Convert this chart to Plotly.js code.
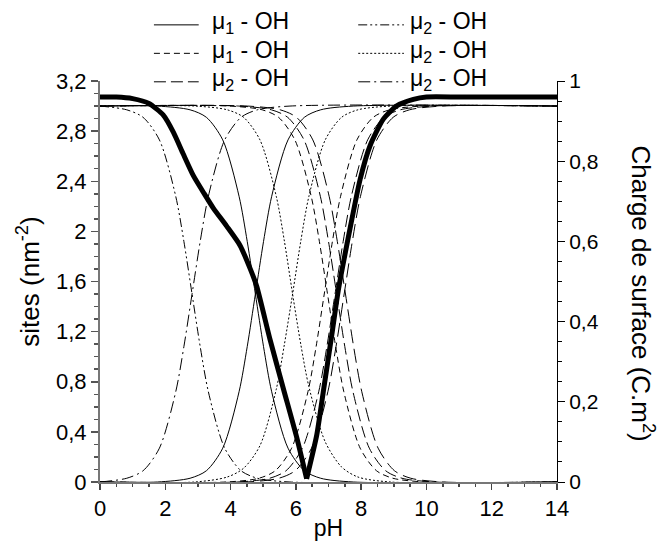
<!DOCTYPE html>
<html><head><meta charset="utf-8">
<script src="https://cdn.plot.ly/plotly-3.0.1.min.js"></script>
<style>html,body{margin:0;padding:0;background:#fff}#chart{width:661px;height:541px}</style>
</head><body><div id="chart"></div>
<script>
// ---- site species curves (sites nm^-2 vs pH) ----
const pH_ddDesc = [0, 0.82, 1.32, 1.82, 2.32, 2.57, 2.82, 3.07, 3.32, 3.82, 4.32, 4.82, 5.82, 14];
const v_ddDesc  = [3.00, 2.97, 2.91, 2.73, 2.28, 1.92, 1.50, 1.08, 0.72, 0.27, 0.09, 0.03, 0.00, 0.00];
const pH_ddAsc  = [0, 0.82, 1.32, 1.82, 2.32, 2.57, 2.82, 3.07, 3.32, 3.82, 4.32, 4.82, 5.82, 14];
const v_ddAsc   = [0.00, 0.03, 0.09, 0.27, 0.72, 1.08, 1.50, 1.92, 2.28, 2.73, 2.91, 2.97, 3.00, 3.00];

const pH_solDesc = [0, 1.76, 2.76, 3.26, 3.76, 4.26, 4.51, 4.76, 5.01, 5.26, 5.76, 6.26, 6.76, 7.76, 14];
const v_solDesc  = [3.00, 3.00, 2.97, 2.91, 2.73, 2.28, 1.92, 1.50, 1.08, 0.72, 0.27, 0.09, 0.03, 0.00, 0.00];
const pH_solAsc  = [0, 1.76, 2.76, 3.26, 3.76, 4.26, 4.51, 4.76, 5.01, 5.26, 5.76, 6.26, 6.76, 7.76, 14];
const v_solAsc   = [0.00, 0.00, 0.03, 0.09, 0.27, 0.72, 1.08, 1.50, 1.92, 2.28, 2.73, 2.91, 2.97, 3.00, 3.00];

const pH_dotDesc = [0, 2.9, 3.9, 4.4, 4.9, 5.4, 5.65, 5.9, 6.15, 6.4, 6.9, 7.4, 7.9, 8.9, 14];
const v_dotDesc  = [3.00, 3.00, 2.97, 2.91, 2.73, 2.28, 1.92, 1.50, 1.10, 0.76, 0.32, 0.12, 0.04, 0.00, 0.00];
const pH_dotAsc  = [0, 2.9, 3.9, 4.4, 4.9, 5.4, 5.65, 5.9, 6.15, 6.4, 6.9, 7.4, 7.9, 8.9, 14];
const v_dotAsc   = [0.00, 0.00, 0.04, 0.11, 0.29, 0.74, 1.10, 1.50, 1.92, 2.28, 2.73, 2.91, 2.97, 3.00, 3.00];

const pH_dashDesc = [0, 3.97, 4.97, 5.47, 5.97, 6.47, 6.72, 6.97, 7.22, 7.47, 7.97, 8.47, 8.97, 9.97, 14];
const v_dashDesc  = [3.00, 3.00, 2.97, 2.91, 2.73, 2.28, 1.92, 1.50, 1.08, 0.72, 0.27, 0.09, 0.03, 0.00, 0.00];
const pH_dashAsc  = [0, 3.87, 4.87, 5.37, 5.87, 6.37, 6.62, 6.87, 7.12, 7.37, 7.87, 8.37, 8.87, 9.87, 14];
const v_dashAsc   = [0.00, 0.00, 0.03, 0.09, 0.27, 0.72, 1.08, 1.50, 1.92, 2.28, 2.73, 2.91, 2.97, 3.00, 3.00];

const pH_ldDesc = [0, 4.25, 5.25, 5.75, 6.25, 6.75, 7.0, 7.25, 7.5, 7.75, 8.25, 8.75, 9.25, 10.25, 14];
const v_ldDesc  = [3.00, 3.00, 2.97, 2.91, 2.73, 2.28, 1.92, 1.50, 1.08, 0.72, 0.27, 0.09, 0.03, 0.00, 0.00];
const pH_ldAsc  = [0, 4.2, 5.2, 5.7, 6.2, 6.7, 6.95, 7.2, 7.45, 7.7, 8.2, 8.7, 9.2, 10.2, 14];
const v_ldAsc   = [0.00, 0.00, 0.03, 0.09, 0.27, 0.72, 1.08, 1.50, 1.92, 2.28, 2.73, 2.91, 2.97, 3.00, 3.00];

const pH_ld2Desc = [0, 4.52, 5.52, 6.02, 6.52, 7.02, 7.27, 7.52, 7.77, 8.02, 8.52, 9.02, 9.52, 10.52, 14];
const v_ld2Desc  = [3.00, 3.00, 2.97, 2.91, 2.73, 2.28, 1.92, 1.50, 1.08, 0.72, 0.27, 0.09, 0.03, 0.00, 0.00];
const pH_ld2Asc  = [0, 4.48, 5.48, 5.98, 6.48, 6.98, 7.23, 7.48, 7.73, 7.98, 8.48, 8.98, 9.48, 10.48, 14];
const v_ld2Asc   = [0.00, 0.00, 0.03, 0.09, 0.27, 0.72, 1.08, 1.50, 1.92, 2.28, 2.73, 2.91, 2.97, 3.00, 3.00];

// ---- surface charge (right axis): branch below and above the point of zero charge ----
const pH_chargeLow = [0, 0.5, 1, 1.5, 1.94, 2.25, 2.55, 2.86, 3.17, 3.47, 3.88, 4.29, 4.6, 4.8, 5.21, 5.62, 6.03, 6.33];
const v_chargeLow  = [0.960, 0.960, 0.956, 0.944, 0.915, 0.872, 0.818, 0.764, 0.722, 0.683, 0.638, 0.590, 0.532, 0.488, 0.355, 0.232, 0.110, 0.008];
const pH_chargeHigh = [6.33, 6.64, 6.84, 7.1, 7.3, 7.66, 7.97, 8.27, 8.68, 9.09, 9.6, 10, 11, 12, 13, 14];
const v_chargeHigh  = [0.008, 0.117, 0.225, 0.366, 0.478, 0.632, 0.755, 0.838, 0.905, 0.938, 0.954, 0.960, 0.960, 0.960, 0.960, 0.960];

// ---- legend labels ----
const legendLeft  = ['μ<sub>1</sub> - OH', 'μ<sub>1</sub> - OH', 'μ<sub>2</sub> - OH'];
const legendRight = ['μ<sub>2</sub> - OH', 'μ<sub>2</sub> - OH', 'μ<sub>2</sub> - OH'];

const DASH = {
  solid: 'solid',
  dashed: '6px,4px',
  longdash: '12px,5px',
  longdash2: '14px,6px',
  dashdotdot: '9px,3px,2px,3px,2px,3px',
  dotted: '2px,2px',
  dotdash: '12px,4px,2px,4px'
};

function thin(x, y, dash) {
  return {x: x, y: y, type: 'scatter', mode: 'lines', xaxis: 'x', yaxis: 'y',
    line: {color: '#000', width: 1, dash: dash, shape: 'spline', smoothing: 0.8},
    hoverinfo: 'skip', showlegend: false};
}
function thick(x, y) {
  return {x: x, y: y, type: 'scatter', mode: 'lines', xaxis: 'x', yaxis: 'y2',
    line: {color: '#000', width: 5, shape: 'spline', smoothing: 0.6}, hoverinfo: 'skip', showlegend: false};
}

const data = [
  thin(pH_ddDesc, v_ddDesc, DASH.dashdotdot),
  thin(pH_ddAsc, v_ddAsc, DASH.dotdash),
  thin(pH_solDesc, v_solDesc, DASH.solid),
  thin(pH_solAsc, v_solAsc, DASH.solid),
  thin(pH_dotDesc, v_dotDesc, DASH.dotted),
  thin(pH_dotAsc, v_dotAsc, DASH.dotted),
  thin(pH_dashDesc, v_dashDesc, DASH.dashed),
  thin(pH_dashAsc, v_dashAsc, DASH.dashed),
  thin(pH_ldDesc, v_ldDesc, DASH.longdash),
  thin(pH_ldAsc, v_ldAsc, DASH.longdash),
  thin(pH_ld2Desc, v_ld2Desc, DASH.longdash2),
  thin(pH_ld2Asc, v_ld2Asc, DASH.longdash2),
  thick(pH_chargeLow, v_chargeLow),
  thick(pH_chargeHigh, v_chargeHigh)
];

// legend geometry (paper coordinates)
const rowY = [1.140, 1.069, 0.998];
const leftLine = [0.118, 0.216], rightLine = [0.565, 0.665];
const leftText = 0.240, rightText = 0.673;
const leftDash = [DASH.solid, DASH.dashed, DASH.longdash];
const rightDash = [DASH.dashdotdot, DASH.dotted, DASH.dotdash];

const shapes = [], annotations = [];
for (let i = 0; i < 3; i++) {
  shapes.push({type: 'line', xref: 'paper', yref: 'paper', x0: leftLine[0], x1: leftLine[1], y0: rowY[i], y1: rowY[i],
    line: {color: '#000', width: 1, dash: leftDash[i]}});
  shapes.push({type: 'line', xref: 'paper', yref: 'paper', x0: rightLine[0], x1: rightLine[1], y0: rowY[i], y1: rowY[i],
    line: {color: '#000', width: 1, dash: rightDash[i]}});
  annotations.push({xref: 'paper', yref: 'paper', x: leftText, y: rowY[i] + 0.005, xanchor: 'left', yanchor: 'middle',
    text: legendLeft[i], showarrow: false, font: {size: 23}});
  annotations.push({xref: 'paper', yref: 'paper', x: rightText, y: rowY[i] + 0.005, xanchor: 'left', yanchor: 'middle',
    text: legendRight[i], showarrow: false, font: {size: 23}});
}
annotations.push({xref: 'paper', yref: 'paper', x: 1.186, y: 0.47, xanchor: 'center', yanchor: 'middle',
  text: 'Charge de surface (C.m<sup>2</sup>)', textangle: 90, showarrow: false, font: {size: 26}});

const layout = {
  width: 661, height: 541,
  margin: {l: 100, r: 104, t: 81, b: 59},
  paper_bgcolor: '#fff', plot_bgcolor: '#fff',
  separators: ', ',
  font: {family: 'Liberation Sans, Arial, sans-serif', size: 21, color: '#000'},
  showlegend: false,
  xaxis: {range: [0, 14], tickmode: 'linear', tick0: 0, dtick: 2,
    ticks: 'outside', ticklen: 6, tickwidth: 1.5, tickcolor: '#444',
    showline: true, linecolor: '#777', linewidth: 2, showgrid: false, zeroline: false,
    minor: {dtick: 0.5, ticks: 'outside', ticklen: 3, tickwidth: 1.5, tickcolor: '#444', showgrid: false},
    tickfont: {size: 22},
    title: {text: 'pH', font: {size: 23}, standoff: 2}},
  yaxis: {range: [0, 3.2000001], tickmode: 'linear', tick0: 0, dtick: 0.4,
    ticks: 'outside', ticklen: 7, tickwidth: 1.5, tickcolor: '#555',
    showline: true, linecolor: '#777', linewidth: 2, showgrid: false, zeroline: false,
    minor: {dtick: 0.1, ticks: 'outside', ticklen: 4, tickwidth: 1.5, tickcolor: '#555', showgrid: false},
    tickfont: {size: 22},
    title: {text: 'sites (nm<sup>-2</sup>)', font: {size: 26}, standoff: 9}},
  yaxis2: {overlaying: 'y', side: 'right', range: [0, 1.0000001], tickmode: 'linear', tick0: 0, dtick: 0.2,
    ticks: 'outside', ticklen: 7, tickwidth: 1, tickcolor: '#000',
    showline: true, linecolor: '#000', linewidth: 1, showgrid: false, zeroline: false,
    minor: {dtick: 0.05, ticks: 'outside', ticklen: 4, tickwidth: 1, tickcolor: '#000', showgrid: false},
    tickfont: {size: 21}},
  shapes: shapes,
  annotations: annotations
};

Plotly.newPlot('chart', data, layout, {staticPlot: true, displayModeBar: false});
</script></body></html>
